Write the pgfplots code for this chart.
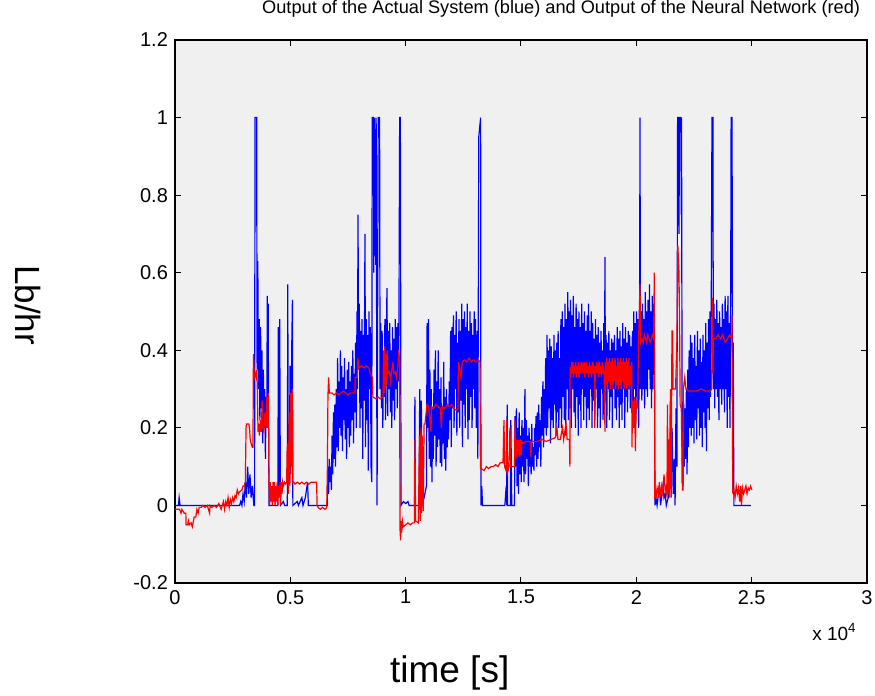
\documentclass[border=0pt]{standalone}
\usepackage{fontspec}
\setmainfont{Liberation Sans}
\usepackage{pgfplots}
\pgfplotsset{compat=1.18}
\definecolor{bggray}{RGB}{240,240,240}
\definecolor{mblue}{RGB}{0,0,255}
\definecolor{mred}{RGB}{255,0,0}

\begin{document}
\begin{tikzpicture}
\useasboundingbox (-87.5pt,-56.5pt) rectangle (350pt,291.5pt);
\begin{axis}[
    scale only axis,
    width=346pt, height=271.5pt,
    xmin=0, xmax=30000,
    ymin=-0.2, ymax=1.2,
    xtick={0,5000,10000,15000,20000,25000,30000},
    ytick={-0.2,0,0.2,0.4,0.6,0.8,1,1.2},
    yticklabels={-0.2,0,0.2,0.4,0.6,0.8,1,1.2},
    scaled x ticks=base 10:-4,
    xtick scale label code/.code={x 10\textsuperscript{#1}},
    every x tick scale label/.style={at={(rel axis cs:0.9855,-0.105)}, anchor=base east, inner sep=0pt, font=\fontsize{9.5}{11}\selectfont},
    /pgf/number format/assume math mode=true,
    tick label style={font=\fontsize{10}{11}\selectfont},
    tick align=inside,
    major tick length=3pt,
    axis line style={line width=0.8pt},
    every tick/.style={black, line width=0.5pt},
    axis background/.style={fill=bggray},
    title={Output of the Actual System (blue) and Output of the Neural Network (red)},
    title style={at={(rel axis cs:0.558,1.0258)}, anchor=base, inner sep=0pt, font=\fontsize{9.1}{10}\selectfont},
    xlabel={time [s]},
    xlabel style={at={(rel axis cs:0.397,-0.184)}, anchor=base, inner sep=0pt, font=\fontsize{18.5}{20}\selectfont},
    ylabel={Lb/hr},
    ylabel style={at={(rel axis cs:-0.2124,0.512)}, anchor=center, rotate=180, inner sep=0pt, font=\fontsize{17.5}{20}\selectfont},
]
% actual system
\addplot[mblue, line width=0.6pt] coordinates {
(0,0)(150,0)(180,0.02)(220,0)(2800,0)(2850,0.01)(2900,0)(2950,0.03)(3000,0.01)(3050,0.06)(3100,0.02)(3150,0.1)(3200,0.03)(3250,0.08)(3300,0.02)(3350,0.05)(3420,0)
(3450,0)(3470,1)(3540,1)(3560,0.35)(3590,0.63)(3620,0.3)(3650,0.48)(3680,0.22)(3710,0.46)(3740,0.25)(3770,0.4)(3800,0.16)(3830,0.35)(3860,0.2)(3890,0.3)(3920,0.12)(3950,0.28)(3980,0.2)(4000,0.54)(4020,0.25)(4040,0.52)(4060,0.2)(4075,0)
(4460,0)(4480,0.46)(4510,0.05)(4540,0.48)(4570,0)(4700,0.01)(4750,0)(4870,0)(4890,0.57)(4910,0.03)(4960,0.15)(4990,0.36)(5020,0.08)(5060,0.4)(5090,0.53)(5110,0)
(5300,0.01)(5350,0)(5500,0.02)(5550,0)(5650,0.02)(5700,0.04)(5750,0.06)(5780,0)(6600,0)
(6630,0.1)(6660,0.03)(6690,0.12)(6720,0.06)(6750,0.1)(6780,0.04)(6810,0.18)(6840,0.08)(6870,0.24)(6900,0.12)(6930,0.26)(6960,0.1)(6990,0.3)(7020,0.15)(7050,0.38)(7080,0.14)
(7110,0.32)(7140,0.2)(7170,0.4)(7200,0.18)(7230,0.36)(7260,0.14)(7290,0.33)(7320,0.22)(7350,0.38)(7380,0.17)(7410,0.3)(7440,0.12)(7470,0.35)(7500,0.2)(7530,0.37)(7560,0.15)
(7590,0.32)(7620,0.18)(7650,0.36)(7680,0.22)(7710,0.4)(7740,0.16)(7770,0.34)(7800,0.24)(7830,0.42)(7860,0.2)(7890,0.5)(7910,0.3)(7935,0.75)(7960,0.35)(7990,0.52)(8020,0.2)
(8050,0.45)(8080,0.25)(8110,0.48)(8140,0.12)(8170,0.44)(8200,0.27)(8237,0.7)(8260,0.15)(8290,0.48)(8320,0.22)(8350,0.44)(8380,0.09)(8410,0.5)(8440,0.3)(8470,0.46)(8500,0.1)
(8530,0.06)(8550,1)(8600,1)(8620,0.6)(8650,1)(8700,0.62)(8720,1)(8760,0)(8790,0.6)(8810,1)(8870,1)(8890,0.3)(8920,0.47)(8950,0.25)(8980,0.45)(9010,0.2)(9040,0.38)(9070,0.28)
(9100,0.48)(9130,0.22)(9160,0.42)(9190,0.56)(9220,0.23)(9250,0.45)(9280,0.3)(9310,0.47)(9340,0.24)(9370,0.4)(9400,0.2)(9430,0.46)(9460,0.27)(9490,0.43)(9520,0.22)(9550,0.48)
(9580,0.3)(9610,0.46)(9640,0.25)(9670,0.47)(9700,0.32)(9740,1)(9770,1)(9800,0)(9900,0.01)(10000,0.005)(10100,0.01)(10150,0)
(10380,0)(10400,0.28)(10420,0)(10580,0)(10610,0.3)(10640,0.05)(10680,0.27)(10710,0)(10800,0.02)(10900,0.05)(10930,0.47)(10960,0.2)(10990,0.48)
(11020,0.12)(11050,0.35)(11080,0.1)(11110,0.3)(11140,0.06)(11170,0.25)(11200,0.12)(11230,0.35)(11260,0.18)(11290,0.4)(11320,0.1)(11350,0.32)(11380,0.15)(11410,0.4)(11440,0.17)
(11470,0.3)(11500,0.11)(11530,0.33)(11560,0.1)(11590,0.25)(11620,0.16)(11650,0.37)(11680,0.12)(11710,0.28)(11740,0.09)(11770,0.3)(11800,0.15)(11830,0.26)(11860,0.17)(11890,0.32)
(11920,0.22)(11950,0.45)(11980,0.15)(12010,0.46)(12040,0.25)(12070,0.49)(12100,0.2)(12130,0.44)(12160,0.3)(12190,0.5)(12220,0.18)(12250,0.42)(12280,0.24)(12310,0.48)(12340,0.2)
(12370,0.45)(12400,0.27)(12430,0.52)(12460,0.15)(12490,0.48)(12520,0.26)(12550,0.5)(12580,0.2)(12610,0.46)(12640,0.3)(12670,0.52)(12700,0.17)(12730,0.45)(12760,0.22)(12790,0.5)
(12820,0.28)(12850,0.47)(12880,0.2)(12910,0.44)(12940,0.3)(12970,0.5)(13000,0.25)(13030,0.48)(13060,0.2)(13100,0.45)(13130,0.12)(13170,0.95)(13250,1)(13265,0)(13300,0.05)(13330,0)
(14300,0)(14360,0.05)(14380,0)(14400,0.26)(14420,0)(14540,0)(14560,0.22)(14600,0)(14720,0)(14740,0.23)(14770,0.1)(14800,0.25)(14830,0.05)(14860,0.2)(14890,0.03)(14920,0.24)
(14950,0.08)(14980,0.18)(15010,0.06)(15040,0.22)(15070,0.1)(15100,0.2)(15130,0.06)(15170,0.3)(15200,0.08)(15230,0.22)(15260,0.12)(15290,0.18)(15320,0.05)(15350,0.2)(15380,0.1)
(15410,0.17)(15440,0.08)(15470,0.21)(15500,0.1)(15530,0.15)(15560,0.09)(15590,0.2)(15620,0.13)(15650,0.23)(15680,0.1)(15710,0.24)(15740,0.12)(15770,0.26)(15800,0.15)(15830,0.22)
(15860,0.1)(15890,0.28)(15920,0.18)(15950,0.32)(15980,0.15)(16010,0.3)(16040,0.2)(16070,0.38)(16100,0.18)(16130,0.44)(16160,0.2)(16190,0.4)(16220,0.25)(16250,0.43)(16280,0.16)
(16310,0.41)(16340,0.22)(16370,0.38)(16400,0.2)(16430,0.44)(16460,0.26)(16490,0.4)(16520,0.18)(16550,0.42)(16580,0.24)(16610,0.45)(16640,0.2)(16670,0.38)(16700,0.25)(16730,0.48)
(16760,0.2)(16790,0.5)(16820,0.28)(16850,0.46)(16880,0.22)(16910,0.52)(16940,0.18)(16970,0.48)(17000,0.3)(17030,0.55)(17060,0.22)(17090,0.5)(17120,0.25)(17150,0.53)(17180,0.2)
(17210,0.49)(17240,0.3)(17270,0.54)(17300,0.24)(17330,0.46)(17360,0.2)(17390,0.52)(17420,0.28)(17450,0.48)(17480,0.18)(17510,0.5)(17540,0.26)(17570,0.46)(17600,0.2)(17630,0.52)
(17660,0.3)(17690,0.47)(17720,0.22)(17750,0.5)(17780,0.28)(17810,0.45)(17840,0.2)(17870,0.49)(17900,0.25)(17930,0.52)(17960,0.22)(17990,0.45)(18020,0.3)(18050,0.5)(18080,0.2)
(18110,0.47)(18140,0.27)(18170,0.43)(18200,0.22)(18230,0.48)(18260,0.3)(18290,0.44)(18320,0.2)(18350,0.46)(18380,0.25)(18410,0.42)(18440,0.2)(18470,0.45)(18500,0.3)(18530,0.4)
(18560,0.22)(18590,0.47)(18620,0.26)(18640,0.64)(18660,0.28)(18690,0.44)(18720,0.2)(18750,0.42)(18780,0.3)(18810,0.45)(18840,0.22)(18870,0.4)(18900,0.28)(18930,0.43)(18960,0.2)
(18990,0.42)(19020,0.3)(19050,0.44)(19080,0.25)(19110,0.4)(19140,0.22)(19170,0.46)(19200,0.28)(19230,0.43)(19260,0.2)(19290,0.45)(19320,0.26)(19350,0.41)(19380,0.22)(19410,0.47)
(19440,0.3)(19470,0.43)(19500,0.2)(19530,0.46)(19560,0.28)(19590,0.42)(19620,0.24)(19650,0.45)(19680,0.3)(19710,0.44)(19740,0.25)(19770,0.41)(19800,0.26)(19830,0.45)(19860,0.2)
(19890,0.5)(19920,0.3)(19950,0.47)(19980,0.22)(20010,0.5)(20040,0.28)(20070,0.48)(20100,0.2)(20140,0.45)(20160,1)(20180,0.3)(20210,0.5)(20240,0.27)(20270,0.52)(20300,0.3)
(20330,0.48)(20360,0.25)(20390,0.55)(20420,0.3)(20450,0.5)(20480,0.28)(20510,0.53)(20540,0.35)(20570,0.57)(20600,0.3)(20630,0.5)(20660,0.25)(20690,0.54)(20720,0.3)(20750,0.52)
(20790,0.38)(20810,0)(20850,0.02)(20900,0)(21000,0.05)(21050,0)(21150,0.05)(21200,0.02)(21250,0.03)(21300,0)(21380,0.02)(21420,0.15)(21450,0.05)(21480,0.27)(21510,0.08)
(21550,0.2)(21600,0.03)(21640,0.12)(21680,0)(21720,0.25)(21760,0.1)(21790,1)(21830,1)(21850,0.7)(21870,1)(21930,1)(21950,0.75)(21960,1)(21990,0.06)(22020,0.05)(22050,0.27)(22080,0.1)(22110,0.25)(22140,0.12)(22170,0.3)
(22200,0.08)(22230,0.35)(22260,0.15)(22290,0.4)(22320,0.2)(22350,0.44)(22380,0.18)(22410,0.42)(22440,0.2)(22470,0.38)(22500,0.16)(22530,0.44)(22560,0.22)(22590,0.36)(22620,0.17)
(22650,0.45)(22680,0.25)(22710,0.4)(22740,0.18)(22770,0.43)(22800,0.2)(22830,0.37)(22860,0.15)(22890,0.44)(22920,0.24)(22950,0.4)(22980,0.2)(23010,0.47)(23040,0.14)(23070,0.42)
(23100,0.25)(23130,0.48)(23160,0.22)(23190,0.5)(23220,0.28)(23250,0.54)(23280,1)(23320,1)(23340,0.3)(23370,0.52)(23400,0.25)(23430,0.48)(23460,0.3)(23490,0.53)(23520,0.28)
(23550,0.47)(23580,0.22)(23610,0.5)(23640,0.3)(23670,0.46)(23700,0.26)(23730,0.52)(23760,0.3)(23790,0.48)(23820,0.24)(23850,0.54)(23880,0.3)(23910,0.5)(23940,0.2)(23970,0.54)
(24000,0.28)(24030,0.47)(24060,0.2)(24090,0.52)(24110,1)(24150,1)(24170,0.3)(24200,0.42)(24230,0)(24970,0)
};
% neural network
\addplot[mred, line width=0.6pt] coordinates {
(0,-0.01)(200,-0.01)(260,-0.02)(300,-0.01)(400,-0.02)(470,-0.02)(480,-0.05)(550,-0.05)(580,-0.04)(620,-0.05)(700,-0.045)(750,-0.055)(800,-0.04)(830,-0.03)(900,-0.03)
(950,-0.01)(1000,-0.02)(1050,-0.005)(1150,-0.005)(1200,0)(1300,-0.005)(1400,0)(1500,-0.02)(1520,0)(1600,-0.005)(1700,0)(1800,-0.005)(1900,0.005)(2000,-0.01)(2100,0.01)
(2150,-0.01)(2200,0.01)(2250,0)(2300,0.02)(2350,-0.005)(2400,0.015)(2450,0.005)(2500,0.02)(2550,0.01)(2600,0.025)(2650,0.02)(2700,0.04)(2750,0.03)(2800,0.035)(2900,0.04)
(2950,0.05)(3000,0.05)(3050,0.06)(3080,0.2)(3100,0.21)(3200,0.21)(3230,0.2)(3260,0.17)(3300,0.16)(3350,0.15)(3380,0.15)(3400,0.39)(3440,0.33)(3480,0.34)(3520,0.33)(3550,0.35)
(3570,0.3)(3600,0.19)(3630,0.2)(3660,0.18)(3700,0.22)(3740,0.19)(3780,0.27)(3800,0.2)(3850,0.19)(3900,0.24)(3940,0.2)(3980,0.28)(4010,0.2)(4040,0.29)(4060,0.2)(4075,0.06)
(4100,0)(4130,0.06)(4160,0.01)(4190,0.05)(4220,0)(4250,0.06)(4280,0.01)(4310,0.06)(4340,0)(4370,0.05)(4400,0.01)(4430,0.06)(4460,0)(4490,0.05)(4520,0.02)(4550,0.06)(4580,0)
(4610,0.06)(4640,0.03)(4670,0.06)(4700,0.05)(4750,0.06)(4800,0.055)(4840,0.06)(4860,0.14)(4880,0.16)(4910,0.03)(4950,0.24)(4980,0.05)(5020,0.29)(5050,0.1)(5080,0.3)(5110,0.06)
(5150,0.06)(5200,0.055)(5300,0.06)(5400,0.055)(5500,0.06)(5600,0.055)(5700,0.06)(5800,0.055)(5900,0.06)(6000,0.06)(6140,0.06)(6160,0)(6200,-0.005)(6300,-0.01)(6400,-0.005)
(6500,-0.01)(6580,-0.005)(6610,0.11)(6630,0.28)(6660,0.33)(6690,0.29)(6800,0.29)(6900,0.285)(7000,0.29)(7100,0.285)(7200,0.29)(7300,0.295)(7400,0.29)(7500,0.285)(7600,0.29)
(7700,0.29)(7800,0.29)(7810,0.33)(7900,0.33)(7930,0.38)(7970,0.355)(8100,0.36)(8200,0.355)(8300,0.36)(8400,0.355)(8460,0.34)(8560,0.33)(8580,0.28)(8700,0.275)(8800,0.28)
(8900,0.275)(9017,0.28)(9040,0.4)(9060,0.29)(9090,0.41)(9110,0.3)(9140,0.39)(9170,0.31)(9200,0.4)(9234,0.34)(9300,0.345)(9350,0.32)(9380,0.34)(9450,0.37)(9480,0.34)(9550,0.345)
(9600,0.33)(9667,0.36)(9700,0.4)(9740,0.37)(9754,-0.06)(9780,-0.09)(9800,-0.04)(9830,-0.07)(9860,-0.04)(9900,-0.055)(10000,-0.05)(10100,-0.045)(10200,-0.05)(10300,-0.045)
(10380,-0.045)(10404,0.17)(10430,-0.04)(10550,-0.045)(10600,0.18)(10630,-0.04)(10660,0.2)(10690,-0.02)(10720,0.18)(10760,-0.015)(10800,0.21)(10838,0.21)(10924,0.26)(11000,0.255)
(11098,0.19)(11120,0.255)(11200,0.25)(11300,0.26)(11400,0.255)(11500,0.25)(11550,0.2)(11580,0.255)(11700,0.25)(11800,0.26)(11900,0.255)(12000,0.26)(12100,0.25)(12200,0.245)
(12268,0.25)(12290,0.37)(12350,0.35)(12400,0.33)(12450,0.37)(12550,0.375)(12650,0.37)(12750,0.38)(12850,0.37)(12950,0.375)(13050,0.37)(13150,0.375)(13222,0.37)(13240,0.096)
(13400,0.09)(13500,0.1)(13600,0.095)(13700,0.1)(13800,0.1)(13900,0.105)(14000,0.1)(14100,0.11)(14220,0.11)(14263,0.22)(14290,0.1)(14350,0.09)(14390,0.22)(14420,0.085)
(14480,0.1)(14520,0.2)(14560,0.1)(14720,0.1)(14740,0.22)(14770,0.12)(14800,0.17)(14830,0.125)(14860,0.168)(14890,0.13)(14920,0.168)(14950,0.125)(14980,0.17)(15010,0.13)
(15040,0.165)(15100,0.16)(15200,0.165)(15400,0.165)(15430,0.125)(15460,0.165)(15700,0.165)(15900,0.17)(16100,0.165)(16300,0.17)(16500,0.175)(16560,0.2)(16600,0.17)(16700,0.17)
(16800,0.2)(16850,0.17)(16950,0.21)(17000,0.17)(17100,0.17)(17120,0.1)(17130,0.355)(17160,0.33)(17190,0.37)(17220,0.34)(17250,0.37)(17280,0.33)(17310,0.36)(17340,0.34)
(17370,0.37)(17400,0.33)(17430,0.36)(17460,0.34)(17490,0.37)(17520,0.33)(17550,0.36)(17580,0.34)(17610,0.37)(17640,0.35)(17670,0.36)(17700,0.34)(17730,0.37)(17760,0.33)
(17790,0.36)(17820,0.35)(17850,0.37)(17880,0.34)(17910,0.36)(17940,0.33)(17970,0.37)(18000,0.34)(18030,0.36)(18060,0.33)(18090,0.37)(18120,0.34)(18150,0.36)(18180,0.35)
(18200,0.2)(18220,0.36)(18250,0.34)(18280,0.37)(18310,0.35)(18340,0.36)(18370,0.33)(18400,0.37)(18430,0.34)(18460,0.36)(18490,0.33)(18520,0.37)(18550,0.34)(18580,0.36)
(18610,0.33)(18640,0.19)(18660,0.37)(18690,0.31)(18720,0.38)(18750,0.3)(18780,0.37)(18810,0.32)(18840,0.38)(18870,0.3)(18900,0.37)(18930,0.31)(18960,0.38)(18990,0.3)
(19020,0.37)(19050,0.32)(19080,0.38)(19110,0.3)(19140,0.36)(19170,0.31)(19200,0.38)(19230,0.3)(19260,0.37)(19290,0.31)(19320,0.38)(19350,0.3)(19380,0.37)(19410,0.32)
(19440,0.38)(19470,0.3)(19500,0.37)(19530,0.31)(19560,0.38)(19590,0.3)(19620,0.37)(19650,0.31)(19680,0.38)(19710,0.3)(19740,0.36)(19770,0.31)(19800,0.37)(19810,0.15)
(19840,0.27)(19880,0.2)(19920,0.28)(19960,0.14)(20000,0.27)(20050,0.25)(20100,0.43)(20160,0.57)(20190,0.42)(20250,0.43)(20300,0.42)(20350,0.44)(20400,0.43)(20450,0.42)
(20500,0.44)(20550,0.43)(20600,0.42)(20650,0.43)(20700,0.44)(20750,0.43)(20780,0.6)(20800,0.014)(20830,0.04)(20860,0.02)(20900,0.045)(20950,0.03)(21000,0.06)(21050,0.02)
(21100,0.05)(21150,0.03)(21200,0.08)(21250,0.04)(21300,0.05)(21328,0.02)(21350,0.26)(21380,0.03)(21410,0.17)(21440,0.02)(21480,0.3)(21510,0.02)(21545,0.45)(21580,0.45)
(21590,0.3)(21700,0.3)(21762,0.43)(21800,0.67)(21850,0.6)(21880,0.43)(21900,0.26)(21950,0.25)(22000,0.04)(22020,0.04)(22040,0.3)(22100,0.33)(22150,0.3)(22200,0.3)
(22250,0.295)(22400,0.295)(22600,0.295)(22800,0.3)(23000,0.295)(23200,0.295)(23270,0.3)(23290,0.535)(23320,0.34)(23340,0.43)(23450,0.43)(23550,0.44)(23650,0.43)(23750,0.44)
(23850,0.42)(23950,0.43)(24050,0.44)(24140,0.43)(24146,0.49)(24180,0.035)(24230,0.04)(24280,0.02)(24330,0.05)(24380,0.03)(24430,0.045)(24480,0.01)(24520,0.05)(24560,0)
(24600,0.045)(24650,0.03)(24700,0.04)(24750,0.05)(24800,0.03)(24850,0.045)(24900,0.04)(24950,0.05)(25013,0.04)
};
\end{axis}
\end{tikzpicture}
\end{document}
